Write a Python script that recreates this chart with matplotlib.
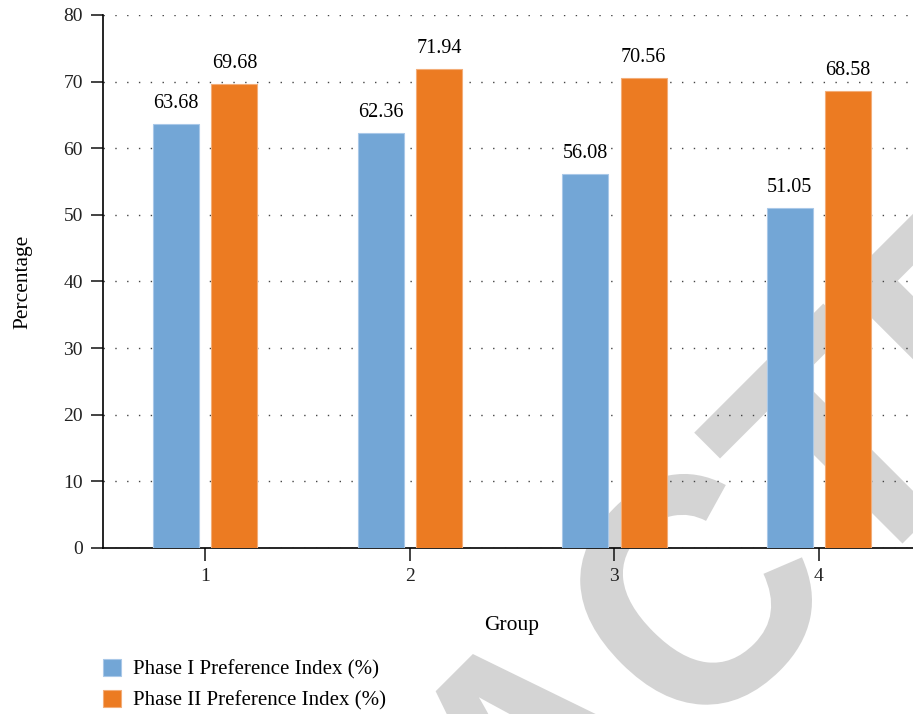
import matplotlib
matplotlib.use("Agg")
import matplotlib.pyplot as plt
import numpy as np
from matplotlib.textpath import TextPath
from matplotlib.patches import PathPatch
from matplotlib.font_manager import FontProperties
from matplotlib.transforms import Affine2D

groups = ["1", "2", "3", "4"]
phase1 = [63.68, 62.36, 56.08, 51.05]
phase2 = [69.68, 71.94, 70.56, 68.58]
series_names = ["Phase I Preference Index (%)", "Phase II Preference Index (%)"]

blue = "#73A6D6"
orange = "#EC7B22"

plt.rcParams["font.family"] = ["Liberation Serif", "DejaVu Serif"]

fig = plt.figure(figsize=(9.13, 7.14), dpi=100)
ax = fig.add_axes([0.1128, 0.2325, 0.896, 0.7465])
ax.patch.set_alpha(0)

# watermark behind the axes, drawn as a path so it can be sized in pixels
wm = TextPath((0, 0), "RETRACTED", size=1,
              prop=FontProperties(family="Liberation Sans", weight="bold"))
wm_tr = (Affine2D().scale(310, 328).rotate_deg(45).translate(-62, 714 - 1508)
         .scale(1 / fig.dpi) + fig.dpi_scale_trans)
fig.add_artist(PathPatch(wm, facecolor="#d4d4d4", edgecolor="none",
                         transform=wm_tr, zorder=-5))

x = np.arange(1, len(groups) + 1)
w = 0.225
off = 0.143
b1 = ax.bar(x - off, phase1, w, color=blue, edgecolor="#a9c8e8", linewidth=0.8,
            label=series_names[0], zorder=3)
b2 = ax.bar(x + off, phase2, w, color=orange, edgecolor="#f3ad78", linewidth=0.8,
            label=series_names[1], zorder=3)

for bars, vals in [(b1, phase1), (b2, phase2)]:
    for r, v in zip(bars, vals):
        ax.annotate(f"{v:.2f}", (r.get_x() + r.get_width() / 2, v),
                    xytext=(0, 11.5), textcoords="offset points",
                    ha="center", va="baseline", fontsize=14.5)

ax.set_xlim(0.5, 4.5)
ax.set_ylim(0, 80)
ax.set_yticks(range(0, 81, 10))
ax.set_xticks(x)
ax.set_xticklabels(groups)
ax.yaxis.grid(True, linestyle=(0, (1, 7.5)), color="#444444", linewidth=1.0)
ax.set_axisbelow(True)

for s in ["top", "right"]:
    ax.spines[s].set_visible(False)
ax.spines["left"].set_linewidth(1.2)
ax.spines["bottom"].set_linewidth(1.2)
ax.tick_params(axis="both", direction="out", length=9, width=1.2, labelsize=14,
               colors="#222222")
ax.tick_params(axis="y", pad=5.5)
ax.tick_params(axis="x", pad=5.5)

ax.set_ylabel("Percentage", fontsize=15.5, labelpad=22)
ax.set_xlabel("Group", fontsize=15.5, labelpad=22)

fig.legend(handles=[b1, b2], labels=series_names, loc="upper left",
           bbox_to_anchor=(0.1128, 1 - 659 / 714), frameon=False, fontsize=15,
           handlelength=0.865, handleheight=0.865, handletextpad=0.58,
           labelspacing=0.5, borderaxespad=0, borderpad=0)

fig.savefig("out.png", dpi=100)
